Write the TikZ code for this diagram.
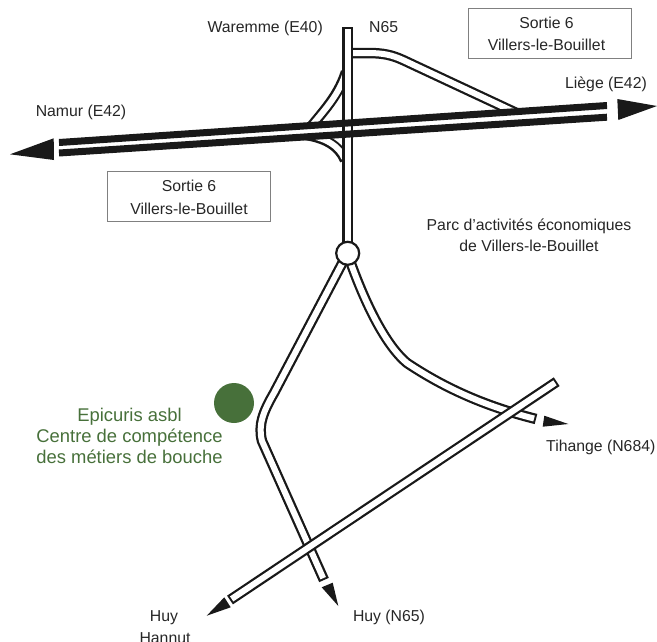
\documentclass[tikz,border=0pt]{standalone}
\usepackage{fontspec}
\setmainfont{Liberation Sans}
\definecolor{epigreen}{HTML}{47703A}
\definecolor{boxgray}{HTML}{808080}
\tikzset{
  x=1pt,y=-1pt,
  label/.style={font=\fontsize{15.8}{21}\selectfont,text=black!85,inner sep=0pt,anchor=base},
  greenlabel/.style={font=\fontsize{18.4}{21}\selectfont,text=epigreen,inner sep=0pt,anchor=base},
  exitbox/.style={draw=boxgray,line width=1pt,minimum width=163.5pt,minimum height=50pt,inner sep=0pt},
  roadout/.style={draw=black!90,line width=10.5pt,line join=round},
  roadin/.style={draw=white,line width=6pt,line join=round,shorten <=2pt,shorten >=2pt},
  stripe/.style={draw=black!90,line width=7pt},
  tip/.style={fill=black!90,draw=none}
}
\newcommand{\roadpath}[1]{\draw[roadout] #1; \draw[roadin] #1;}
\begin{document}
\begin{tikzpicture}
\useasboundingbox (0,0) rectangle (657,641);
% free ends
\coordinate (n65top) at (347.5,27);
\coordinate (n65bot) at (347.5,253);
\coordinate (e42w1) at (59,142.5);
\coordinate (e42e1) at (607,105.5);
\coordinate (e42w2) at (59,153);
\coordinate (e42e2) at (607,117.2);
% ramps, trimmed along the carriageways
\begin{scope}
\clip (e42w1) -- (e42e1) -- (607,0) -- (59,0) -- cycle;
\roadpath{(345,53) -- (368,53) .. controls (383,53) and (392,55) .. (403,60) -- (522,115.6)}
\roadpath{(304,136) .. controls (318,116) and (337,100) .. (346,72)}
\end{scope}
\begin{scope}
\clip (e42w2) -- (e42e2) -- (607,641) -- (59,641) -- cycle;
\roadpath{(302,134.5) .. controls (325,137) and (339,146) .. (345,160)}
\end{scope}
% N65
\roadpath{(n65top) -- (n65bot)}
% E42
\draw[stripe] (e42w1) -- (e42e1);
\draw[stripe] (e42w2) -- (e42e2);
\fill[tip] (10,154.3) -- (53.7,138.3) -- (54,160) -- cycle;
\fill[tip] (657,106) -- (617.3,99) -- (618.3,120) -- cycle;
% south roads
\roadpath{(345,258) -- (274,393) .. controls (263,412) and (258,425) .. (262,441) -- (324,580)}
\roadpath{(349,258) .. controls (362,295) and (383,343) .. (407,363) .. controls (440,385) and (480,405) .. (536,419)}
\roadpath{(556.7,381.7) -- (230,600)}
% junction
\node[circle,draw=black!90,fill=white,line width=2.2pt,minimum size=23pt,inner sep=0pt] (junction) at (347.7,253.3) {};
\fill[tip] (568.3,424) -- (544.3,415.7) -- (542.7,426.7) -- cycle;
\fill[tip] (338.3,606) -- (321.7,587.3) -- (332.7,582.7) -- cycle;
\fill[tip] (206.7,615.7) -- (224.3,597.3) -- (230.7,607.3) -- cycle;
% Epicuris
\node[circle,fill=epigreen,minimum size=40pt,inner sep=0pt] (epicuris) at (234,403) {};
\node[greenlabel] (epi1) at (129.5,421) {Epicuris asbl};
\node[greenlabel] (epi2) at (129.5,442) {Centre de compétence};
\node[greenlabel] (epi3) at (129.5,463) {des métiers de bouche};
% boxes
\node[exitbox] (boxE) at (550,33) {};
\node[label] (boxE1) at (546.5,28.3) {Sortie 6};
\node[label] (boxE2) at (546.5,50.7) {Villers-le-Bouillet};
\node[exitbox] (boxW) at (189,196) {};
\node[label] (boxW1) at (189,191.7) {Sortie 6};
\node[label] (boxW2) at (189,214) {Villers-le-Bouillet};
% labels
\node[label,anchor=base east] (waremme) at (323,32.4) {Waremme (E40)};
\node[label,anchor=base west] (n65) at (369,32.4) {N65};
\node[label] (namur) at (81,116) {Namur (E42)};
\node[label] (liege) at (606,88.3) {Liège (E42)};
\node[label] (parc1) at (529,230) {Parc d’activités économiques};
\node[label] (parc2) at (529,251) {de Villers-le-Bouillet};
\node[label,anchor=base west] (tihange) at (546,451.5) {Tihange (N684)};
\node[label] (huy) at (164,621) {Huy};
\node[label] (hannut) at (165,643.5) {Hannut};
\node[label] (huyn) at (389,621) {Huy (N65)};
\end{tikzpicture}
\end{document}
